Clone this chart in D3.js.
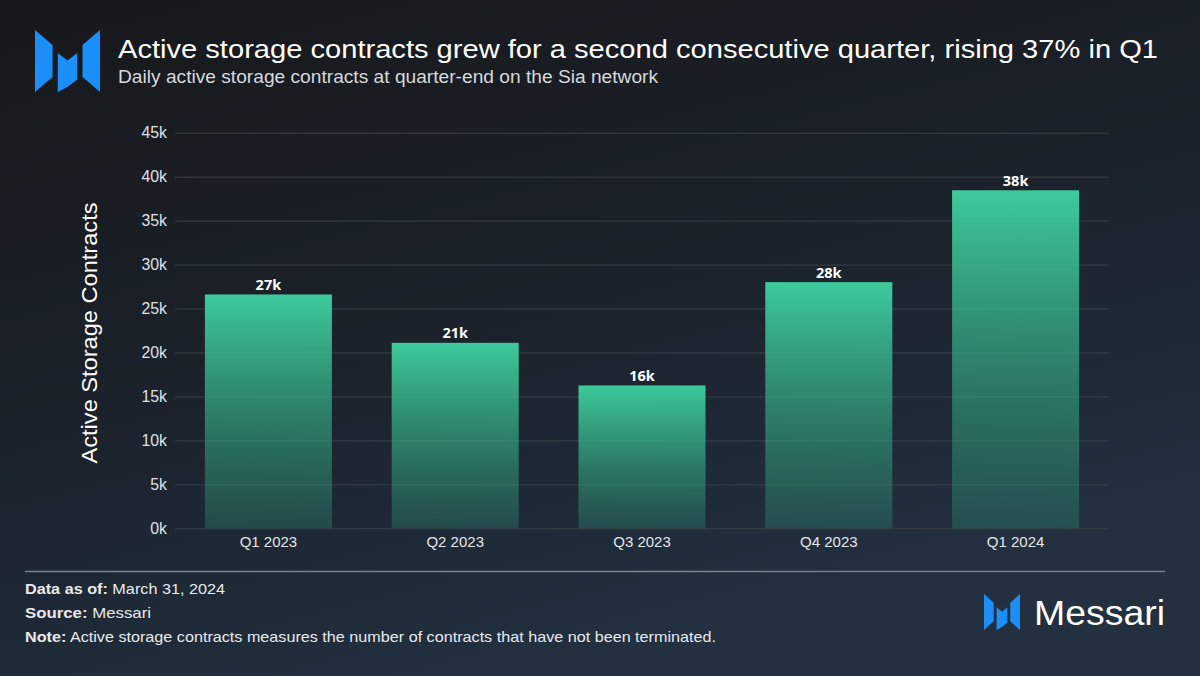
<!DOCTYPE html>
<html>
<head>
<meta charset="utf-8">
<script src="https://cdn.jsdelivr.net/npm/d3@7"></script>
<style>
  html, body { margin: 0; padding: 0; background: #1a1d22; }
  svg { display: block; }
</style>
</head>
<body>
<script>
// ---- Data ----
const categories = ["Q1 2023", "Q2 2023", "Q3 2023", "Q4 2023", "Q1 2024"];
const values = [26600, 21100, 16250, 28000, 38450];
const valueLabels = ["27k", "21k", "16k", "28k", "38k"];
const yTicks = [0, 5000, 10000, 15000, 20000, 25000, 30000, 35000, 40000, 45000];
const yTickLabels = ["0k", "5k", "10k", "15k", "20k", "25k", "30k", "35k", "40k", "45k"];

const title = "Active storage contracts grew for a second consecutive quarter, rising 37% in Q1";
const subtitle = "Daily active storage contracts at quarter-end on the Sia network";
const yTitle = "Active Storage Contracts";
const footerBold = ["Data as of:", "Source:", "Note:"];
const footerText = [" March 31, 2024", " Messari",
  " Active storage contracts measures the number of contracts that have not been terminated."];
const footerWidths = [200, 126, 691];

// ---- Setup ----
const W = 1200, H = 676;
const svg = d3.select("body").append("svg").attr("width", W).attr("height", H);
const defs = svg.append("defs");

const bg = defs.append("linearGradient").attr("id", "bg")
  .attr("x1", "0").attr("y1", "0").attr("x2", "0.45").attr("y2", "1");
bg.append("stop").attr("offset", "0").attr("stop-color", "#17181b");
bg.append("stop").attr("offset", "0.55").attr("stop-color", "#1b222b");
bg.append("stop").attr("offset", "1").attr("stop-color", "#223040");
svg.append("rect").attr("width", W).attr("height", H).attr("fill", "url(#bg)");

const barGrad = defs.append("linearGradient").attr("id", "barGrad")
  .attr("x1", "0").attr("y1", "0").attr("x2", "0").attr("y2", "1");
barGrad.append("stop").attr("offset", "0").attr("stop-color", "#3dca9c").attr("stop-opacity", 1);
barGrad.append("stop").attr("offset", "1").attr("stop-color", "#2f9a7a").attr("stop-opacity", 0.3);

const sans = "'Liberation Sans', Arial, Helvetica, sans-serif";

// ---- Logo ----
function drawLogo(g, w, h) {
  const pieces = [
    [[0,0],[0.27,0.24],[0.27,0.76],[0,1]],
    [[0.35,0.37],[0.5,0.49],[0.65,0.37],[0.65,0.80],[0.5,0.92],[0.35,1]],
    [[0.73,0.24],[1,0],[1,1],[0.73,0.76]]
  ];
  g.selectAll("polygon").data(pieces).join("polygon")
    .attr("points", d => d.map(p => [p[0]*w, p[1]*h].join(",")).join(" "))
    .attr("fill", "#1b8ef8");
}
drawLogo(svg.append("g").attr("transform", "translate(35,30)"), 65, 62);

// ---- Titles ----
svg.append("text").attr("x", 118).attr("y", 58)
  .attr("font-family", sans).attr("font-size", 26).attr("fill", "#ffffff")
  .attr("textLength", 1040).attr("lengthAdjust", "spacingAndGlyphs")
  .text(title);
svg.append("text").attr("x", 118).attr("y", 83)
  .attr("font-family", sans).attr("font-size", 17.5).attr("fill", "#d6d9dd")
  .attr("textLength", 540).attr("lengthAdjust", "spacingAndGlyphs")
  .text(subtitle);

// ---- Chart ----
const plot = { left: 175, right: 1109, top: 132.7, bottom: 528.3 };
const x = d3.scaleBand().domain(categories).range([plot.left, plot.right])
  .paddingInner(0.32).paddingOuter(0.16);
const y = d3.scaleLinear().domain([0, 45000]).range([plot.bottom, plot.top]);

// gridlines
const yAxis = d3.axisLeft(y).tickValues(yTicks)
  .tickFormat((d, i) => yTickLabels[i])
  .tickSize(-(plot.right - plot.left)).tickPadding(8);
const gy = svg.append("g").attr("transform", `translate(${plot.left},0)`).call(yAxis);
gy.select(".domain").remove();
gy.selectAll(".tick line").attr("stroke", "#3a4049").attr("stroke-width", 1);
gy.selectAll(".tick text").attr("font-family", sans).attr("font-size", 15.8)
  .attr("fill", "#dfe2e6");

// bars
svg.append("g").selectAll("rect").data(values).join("rect")
  .attr("x", (d, i) => x(categories[i]))
  .attr("y", d => y(d))
  .attr("width", x.bandwidth())
  .attr("height", d => y(0) - y(d))
  .attr("fill", "url(#barGrad)");

// value labels
svg.append("g").selectAll("text").data(values).join("text")
  .attr("x", (d, i) => x(categories[i]) + x.bandwidth() / 2)
  .attr("y", d => y(d) - 4.5)
  .attr("text-anchor", "middle")
  .attr("font-family", "'Open Sans', 'Noto Sans', sans-serif")
  .attr("font-weight", 700).attr("font-size", 14.5).attr("fill", "#ffffff")
  .text((d, i) => valueLabels[i]);

// x axis labels
const xAxis = d3.axisBottom(x).tickSize(0).tickPadding(0);
const gx = svg.append("g").attr("transform", `translate(0,${plot.bottom})`).call(xAxis);
gx.select(".domain").remove();
gx.selectAll(".tick text").attr("dy", null).attr("y", 19)
  .attr("font-family", sans).attr("font-size", 15).attr("fill", "#e4e6e9");

// y title
svg.append("text")
  .attr("transform", "translate(97,333) rotate(-90)")
  .attr("text-anchor", "middle")
  .attr("font-family", sans).attr("font-size", 22).attr("fill", "#ffffff")
  .attr("textLength", 261).attr("lengthAdjust", "spacingAndGlyphs")
  .text(yTitle);

// ---- Footer ----
svg.append("line").attr("x1", 25).attr("x2", 1165).attr("y1", 571.5).attr("y2", 571.5)
  .attr("stroke", "#7a8089").attr("stroke-width", 1.5);

const ft = svg.append("g").selectAll("text").data(footerBold).join("text")
  .attr("x", 25).attr("y", (d, i) => 593.5 + i * 24)
  .attr("font-family", sans).attr("font-size", 15).attr("fill", "#e8eaed")
  .attr("textLength", (d, i) => footerWidths[i]).attr("lengthAdjust", "spacingAndGlyphs");
ft.append("tspan").attr("font-weight", 700).text(d => d);
ft.append("tspan").text((d, i) => footerText[i]);

drawLogo(svg.append("g").attr("transform", "translate(984,594)"), 36, 36);
svg.append("text").attr("x", 1034).attr("y", 625)
  .attr("font-family", sans).attr("font-size", 35).attr("fill", "#ffffff")
  .attr("textLength", 131).attr("lengthAdjust", "spacingAndGlyphs")
  .text("Messari");
</script>
</body>
</html>
